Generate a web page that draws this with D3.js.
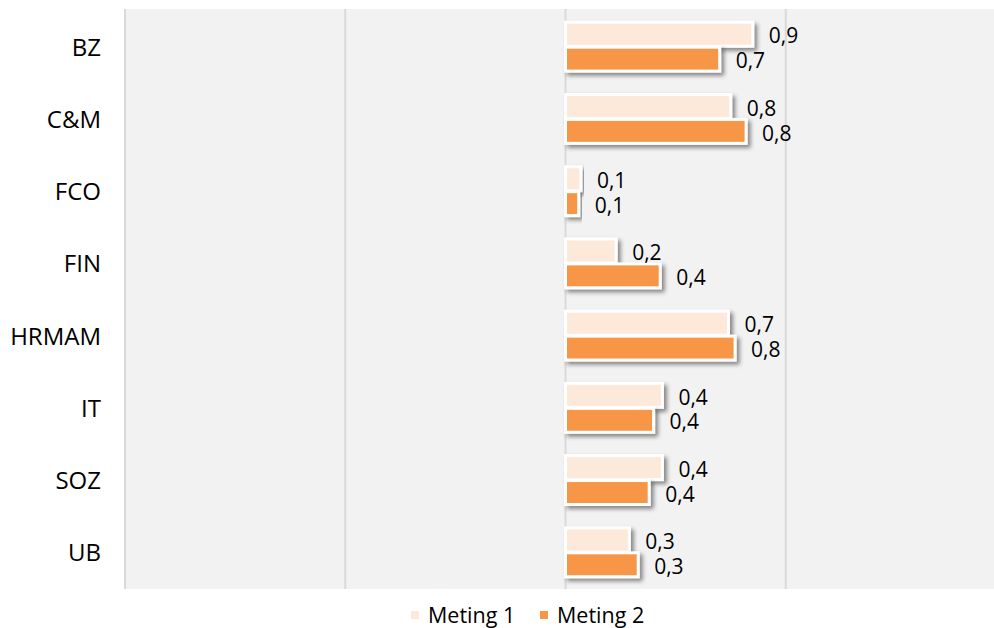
<!DOCTYPE html>
<html>
<head>
<meta charset="utf-8">
<script src="https://cdn.jsdelivr.net/npm/d3@7"></script>
<style>
    body { margin: 0; background: #fff; }
    svg { display: block; font-family: "Open Sans", sans-serif; }
</style>
</head>
<body>
<div id="chart"></div>
<script>
const categories = ["BZ", "C&M", "FCO", "FIN", "HRMAM", "IT", "SOZ", "UB"];
const series = ["Meting 1", "Meting 2"];
const meting1 = [0.85, 0.75, 0.07, 0.23, 0.74, 0.44, 0.44, 0.29];
const meting2 = [0.70, 0.82, 0.06, 0.43, 0.77, 0.40, 0.38, 0.33];
const meting1Labels = ["0,9", "0,8", "0,1", "0,2", "0,7", "0,4", "0,4", "0,3"];
const meting2Labels = ["0,7", "0,8", "0,1", "0,4", "0,8", "0,4", "0,4", "0,3"];
const xTicks = [-2, -1, 0, 1, 2];
const colors = ["#fde9d9", "#f79646"];

const width = 994;
const height = 628;
const plot = {left: 125, right: 994, top: 9, bottom: 589};

const svg = d3.select("#chart")
    .append("svg")
    .attr("width", width)
    .attr("height", height);

const defs = svg.append("defs");
const shadow = defs.append("filter")
    .attr("id", "shadow")
    .attr("x", "-20%").attr("y", "-40%")
    .attr("width", "140%").attr("height", "200%");
shadow.append("feDropShadow")
    .attr("dx", 3)
    .attr("dy", 3)
    .attr("stdDeviation", 2.2)
    .attr("flood-color", "#000")
    .attr("flood-opacity", 0.45);

const x = d3.scaleLinear().domain([-2, 2]).range([125, 1006]);

const y = d3.scaleBand()
    .domain(categories)
    .range([plot.top, plot.bottom])
    .paddingInner(0.31)
    .paddingOuter(0.17);

const ySub = d3.scaleBand()
    .domain(series)
    .range([0, y.bandwidth()]);

// achtergrond
svg.append("rect")
    .attr("x", plot.left)
    .attr("y", plot.top)
    .attr("width", plot.right - plot.left)
    .attr("height", plot.bottom - plot.top)
    .attr("fill", "#f2f2f2");

// rasterlijnen
svg.selectAll(".grid")
    .data(xTicks.filter(t => x(t) < width))
    .enter().append("line")
    .attr("class", "grid")
    .attr("x1", d => x(d))
    .attr("x2", d => x(d))
    .attr("y1", plot.top)
    .attr("y2", plot.bottom)
    .attr("stroke", "#d9d9d9")
    .attr("stroke-width", 2);

const rows = categories.map((c, i) => ({
    cat: c,
    vals: [
        {s: series[0], v: meting1[i], label: meting1Labels[i], color: colors[0]},
        {s: series[1], v: meting2[i], label: meting2Labels[i], color: colors[1]}
    ]
}));

const group = svg.selectAll(".cat")
    .data(rows)
    .enter().append("g")
    .attr("class", "cat")
    .attr("transform", d => `translate(0,${y(d.cat)})`);

group.selectAll("rect")
    .data(d => d.vals)
    .enter().append("rect")
    .attr("x", x(0))
    .attr("y", d => ySub(d.s) + 1)
    .attr("width", d => x(d.v) - x(0))
    .attr("height", ySub.bandwidth() - 1)
    .attr("fill", d => d.color)
    .attr("stroke", "#fff")
    .attr("stroke-width", 3)
    .attr("filter", "url(#shadow)");

group.selectAll("text")
    .data(d => d.vals)
    .enter().append("text")
    .attr("x", d => x(d.v) + 16)
    .attr("y", d => ySub(d.s) + ySub.bandwidth() / 2 + 4)
    .attr("dominant-baseline", "middle")
    .attr("font-size", 21)
    .attr("fill", "#000")
    .text(d => d.label);

// categorie-labels
svg.selectAll(".catLabel")
    .data(categories)
    .enter().append("text")
    .attr("class", "catLabel")
    .attr("x", 101)
    .attr("y", d => y(d) + y.bandwidth() / 2 + 3)
    .attr("text-anchor", "end")
    .attr("dominant-baseline", "middle")
    .attr("font-size", 24)
    .attr("fill", "#000")
    .text(d => d);

// legenda
const legend = svg.append("g")
    .attr("transform", "translate(411,615)");

const legendX = [0, 129];
const item = legend.selectAll(".item")
    .data(series)
    .enter().append("g")
    .attr("class", "item")
    .attr("transform", (d, i) => `translate(${legendX[i]},0)`);

item.append("rect")
    .attr("x", 0)
    .attr("y", -4)
    .attr("width", 8)
    .attr("height", 8)
    .attr("fill", (d, i) => colors[i]);

item.append("text")
    .attr("x", 17)
    .attr("y", 2)
    .attr("dominant-baseline", "middle")
    .attr("font-size", 21.5)
    .attr("fill", "#000")
    .text(d => d);
</script>
</body>
</html>
